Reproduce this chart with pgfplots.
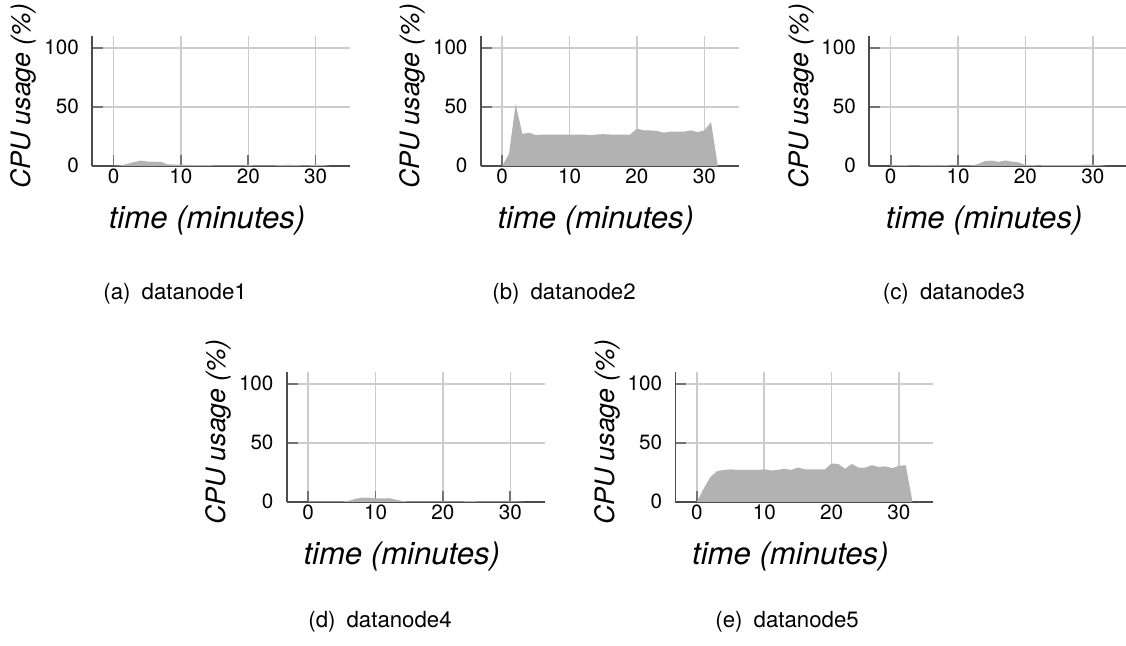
\documentclass[border=0pt]{standalone}
\usepackage{pgfplots}
\pgfplotsset{compat=1.18}
\usepackage{fontspec}
\setmainfont{TeX Gyre Heros}

% CPU usage per datanode, one sample per minute
\pgfplotsset{
  cpu/.style={
    scale only axis, width=116.1pt, height=58.4pt,
    anchor=south west,
    xmin=-3.2, xmax=35.1, ymin=0, ymax=110,
    axis x line=bottom, axis y line=left,
    axis line style={-, draw=black!70, line width=0.75pt},
    xtick={0,10,20,30}, ytick={0,50,100},
    tick align=inside, major tick length=5pt,
    tick style={draw=black!55, line width=0.75pt},
    grid=major, major grid style={draw=black!20, line width=0.7pt},
    tick label style={font=\fontsize{9.3}{10}\selectfont},
    /pgf/number format/assume math mode=true,
    xticklabel style={yshift=2pt}, yticklabel style={xshift=-2.4pt},
    xlabel={time (minutes)}, ylabel={CPU usage (\%)},
    xlabel style={font=\fontsize{14}{16}\selectfont\itshape,
      at={(axis description cs:0.446,-0.418)}, anchor=center},
    ylabel style={font=\fontsize{12}{14}\selectfont\itshape,
      at={(axis description cs:-0.264,0.535)}, anchor=center},
  },
  cpufill/.style={fill=black!30, draw=none},
}

\begin{document}
\begin{tikzpicture}
\useasboundingbox (0pt,0pt) rectangle (506.7pt,-290.7pt);

% (a) datanode1
\begin{axis}[cpu, at={(41.4pt,-74.6pt)}]
\addplot[cpufill] coordinates {
 (0,0) (1,0.3) (2,1.5) (3,3) (4,4.3) (5,3.6) (6,3.4) (7,3.4) (8,1.2) (9,1)
 (10,1) (11,0.8) (12,0.6) (13,0.5) (14,0.5) (15,0.4) (16,0.4) (17,0.4) (18,0.4)
 (19,0.4) (20,0.5) (21,0.4) (22,0.4) (23,0.4) (24,0.4) (25,0.6) (26,1) (27,0.5)
 (28,0.4) (29,0.4) (30,0.8) (31,0.6) (32,0)
} \closedcycle;
\end{axis}

% (b) datanode2
\begin{axis}[cpu, at={(216.3pt,-74.6pt)}]
\addplot[cpufill] coordinates {
 (0,0) (1,10) (2,52) (3,27) (4,28) (5,26) (6,26.5) (7,26.5) (8,26.5) (9,26.5)
 (10,26.5) (11,26.5) (12,26.5) (13,26) (14,26.5) (15,26.8) (16,26.5) (17,26.3)
 (18,26.5) (19,26.5) (20,31.5) (21,30) (22,30) (23,29.5) (24,28) (25,29) (26,29)
 (27,29) (28,30) (29,28.5) (30,30) (31,37) (32,0)
} \closedcycle;
\end{axis}

% (c) datanode3
\begin{axis}[cpu, at={(391.1pt,-74.6pt)}]
\addplot[cpufill] coordinates {
 (0,0.5) (1,0.8) (2,0.5) (3,0.4) (4,0.4) (5,0.5) (6,0.7) (7,0.8) (8,0.5) (9,0.4)
 (10,0.4) (11,0.4) (12,0.4) (13,1.5) (14,4) (15,4.4) (16,3.2) (17,4.5) (18,3.5)
 (19,2.8) (20,0.6) (21,0.5) (22,0.4) (23,0.5) (24,0.6) (25,0.5) (26,0.5) (27,0.5)
 (28,0.7) (29,1) (30,1) (31,0.5) (32,0)
} \closedcycle;
\end{axis}

% (d) datanode4
\begin{axis}[cpu, at={(129.0pt,-225.8pt)}]
\addplot[cpufill] coordinates {
 (0,0.3) (1,0.3) (2,0.3) (3,0.3) (4,0.3) (5,0.3) (6,0.8) (7,2.5) (8,3.6) (9,3.5)
 (10,2.8) (11,2.9) (12,3) (13,1.8) (14,0.6) (15,0.3) (16,0.3) (17,0.3) (18,0.3)
 (19,0.3) (20,0.3) (21,0.3) (22,0.3) (23,0.4) (24,0.7) (25,0.4) (26,0.3) (27,0.3)
 (28,0.3) (29,0.3) (30,0.3) (31,0.3) (32,0)
} \closedcycle;
\end{axis}

% (e) datanode5
\begin{axis}[cpu, at={(303.9pt,-225.8pt)}]
\addplot[cpufill] coordinates {
 (0,0) (1,11) (2,21) (3,26) (4,27) (5,27.5) (6,27) (7,27) (8,27) (9,27)
 (10,27.5) (11,26.5) (12,27) (13,28) (14,27) (15,29) (16,27.5) (17,27.5)
 (18,27.5) (19,27.5) (20,32.5) (21,32) (22,28) (23,32) (24,29) (25,29) (26,31)
 (27,29.5) (28,30) (29,28.5) (30,30.5) (31,31) (32,0)
} \closedcycle;
\end{axis}

% subfigure captions
\begin{scope}[every node/.style={font=\fontsize{10}{12}\selectfont}]
\node at (78.8pt,-132.3pt) {(a)\hspace{0.5em}datanode1};
\node at (253.8pt,-132.3pt) {(b)\hspace{0.5em}datanode2};
\node at (429.3pt,-132.3pt) {(c)\hspace{0.5em}datanode3};
\node at (171.0pt,-280.0pt) {(d)\hspace{0.5em}datanode4};
\node at (354.2pt,-280.0pt) {(e)\hspace{0.5em}datanode5};
\end{scope}
\end{tikzpicture}
\end{document}
